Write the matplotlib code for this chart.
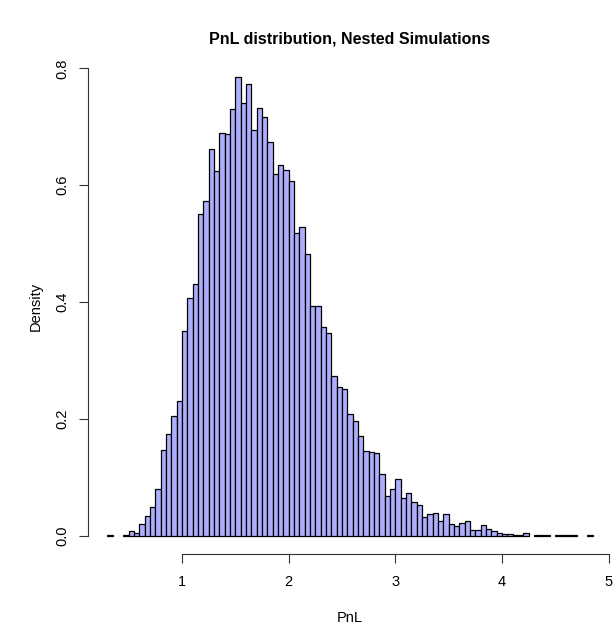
import matplotlib
matplotlib.use("Agg")
import matplotlib.pyplot as plt
import numpy as np

plt.rcParams['font.family'] = ['Liberation Sans', 'DejaVu Sans']

# histogram of PnL, bins of width 0.05 starting at 0.30
bin_start = 0.30
bin_width = 0.05
density = [
    0.002, 0.0, 0.0, 0.001, 0.008, 0.0057, 0.021, 0.034, 0.049, 0.081,   # 0.30 - 0.75
    0.147, 0.175, 0.205, 0.231, 0.351, 0.408, 0.431, 0.551, 0.573, 0.662,  # 0.80 - 1.25
    0.624, 0.690, 0.687, 0.730, 0.785, 0.741, 0.773, 0.694, 0.732, 0.717,  # 1.30 - 1.75
    0.674, 0.619, 0.635, 0.626, 0.607, 0.518, 0.529, 0.483, 0.394, 0.394,  # 1.80 - 2.25
    0.357, 0.348, 0.273, 0.255, 0.251, 0.209, 0.197, 0.171, 0.145, 0.144,  # 2.30 - 2.75
    0.1415, 0.106, 0.069, 0.080, 0.098, 0.065, 0.074, 0.059, 0.0525, 0.032,  # 2.80 - 3.25
    0.038, 0.039, 0.025, 0.038, 0.021, 0.018, 0.023, 0.025, 0.010, 0.010,  # 3.30 - 3.75
    0.019, 0.0125, 0.0086, 0.0046, 0.003, 0.003, 0.001, 0.001, 0.005, 0.0,  # 3.80 - 4.25
    0.001, 0.001, 0.001, 0.0, 0.001, 0.001, 0.001, 0.001, 0.0, 0.0,  # 4.30 - 4.75
    0.002,  # 4.80
]
x_ticks = [1, 2, 3, 4, 5]
y_ticks = [0.0, 0.2, 0.4, 0.6, 0.8]

density = np.array(density)
lefts = bin_start + bin_width * np.arange(len(density))
keep = density > 0

W, H = 613, 635
fig = plt.figure(figsize=(W / 100, H / 100), dpi=100)
# plot region in pixels (R style, right edge sits at the image border)
left_px, right_px, top_px, bottom_px = 88, 612, 59, 554.4
ax = fig.add_axes([left_px / W, 1 - bottom_px / H,
                   (right_px - left_px) / W, (bottom_px - top_px) / H])

ax.bar(lefts[keep], density[keep], width=bin_width, align='edge',
       color='#AEAEFF', edgecolor='black', linewidth=0.9)

ax.set_xlim(0.1188, 5.031)
ax.set_ylim(-0.0314, 0.816)

for s in ['top', 'right']:
    ax.spines[s].set_visible(False)
ax.spines['bottom'].set_bounds(1, 5)
ax.spines['left'].set_bounds(0, 0.8)
for s in ['bottom', 'left']:
    ax.spines[s].set_linewidth(0.8)
    ax.spines[s].set_color('#333333')

ax.set_xticks(x_ticks)
ax.set_xticklabels([str(t) for t in x_ticks])
ax.set_yticks(y_ticks)
ax.set_yticklabels(['%.1f' % t for t in y_ticks], rotation=90, va='center')
ax.tick_params(direction='out', length=6.5, width=0.8, labelsize=10.5,
               color='#333333')
ax.tick_params(axis='x', pad=8.5)
ax.tick_params(axis='y', pad=7)

ax.set_xlabel('PnL', fontsize=10.5, labelpad=16)
ax.set_ylabel('Density', fontsize=10.5, labelpad=9)
ax.set_title('PnL distribution, Nested Simulations', fontsize=11.5,
             fontweight='bold', pad=11)

fig.savefig('out.png', dpi=100)
